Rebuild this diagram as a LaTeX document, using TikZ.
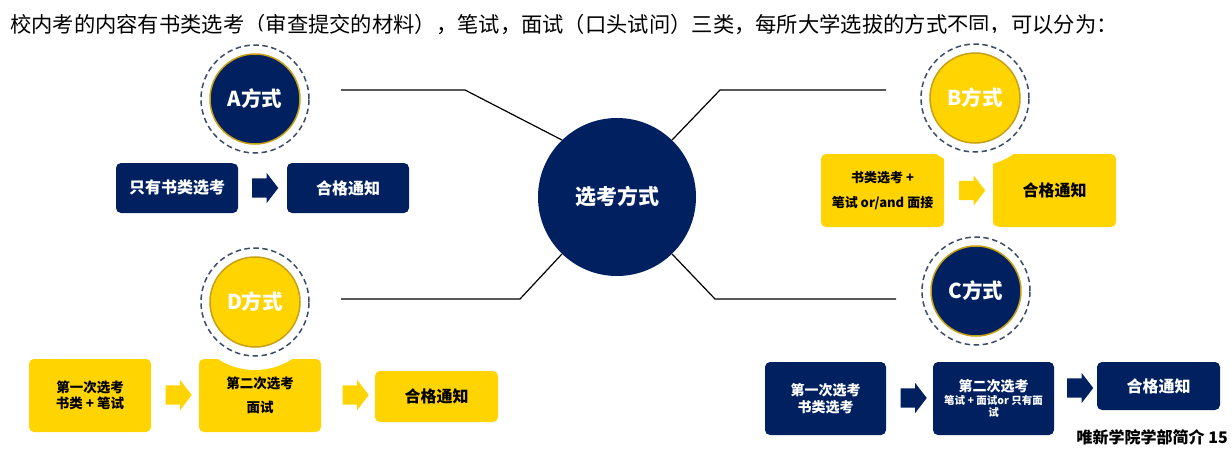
\documentclass[tikz,border=0pt]{standalone}
\usepackage{fontspec}
\setmainfont{Noto Sans CJK SC}
\usetikzlibrary{shapes.arrows}
\definecolor{azul}{RGB}{0,32,96}
\definecolor{amarelo}{RGB}{255,212,0}
\definecolor{ouro}{RGB}{200,160,20}
\definecolor{cinza}{RGB}{60,76,104}

\begin{document}
\begin{tikzpicture}[x=1pt,y=-1pt,
  ligacao/.style={line width=1.2pt,black},
  caixa/.style={rectangle,rounded corners=5pt,inner sep=0pt,align=center},
  caixaazul/.style={caixa,fill=azul,text=white},
  caixaamarela/.style={caixa,fill=amarelo,text=black},
  txtgrande/.style={font=\fontsize{16}{19}\selectfont\bfseries},
  seta/.style={single arrow,inner sep=0pt,inner ysep=9.5pt,minimum height=26pt,minimum width=30pt,single arrow head extend=5.5pt,single arrow tip angle=105},
  metodo/.style={circle,minimum size=90pt,inner sep=0pt,line width=1.5pt,text=white,font=\fontsize{20.5}{24}\selectfont\bfseries},
  anel/.style={draw=cinza,dash pattern=on 5.5pt off 3.5pt,line width=1.5pt}
]
% fundo
\path[use as bounding box,fill=white] (0,0) rectangle (1232,453);
% titulo
\node[anchor=west,inner sep=0pt,font=\fontsize{21.3}{24}\selectfont] (titulo) at (10,25) {校内考的内容有书类选考（审查提交的材料），笔试，面试（口头试问）三类，每所大学选拔的方式不同，可以分为：};
% circulo central
\node[circle,fill=azul,minimum size=158pt,inner sep=0pt,text=white,font=\fontsize{21}{24}\selectfont\bfseries] (centro) at (617,197) {选考方式};

% metodo A
\node[caixaazul,minimum width=122pt,minimum height=50pt,txtgrande] (a1) at (177,188) {只有书类选考};
\node[seta,fill=azul] (sa) at (261.5,188) {};
\node[caixaazul,minimum width=122pt,minimum height=50pt,txtgrande] (a2) at (348,188) {合格通知};
% metodo B
\node[caixaamarela,minimum width=123pt,minimum height=73pt,font=\fontsize{13}{25}\selectfont\bfseries] (b1) at (882.5,190.5) {书类选考 +\\笔试 or/and 面接};
\node[seta,fill=amarelo] (sb) at (968.5,190.5) {};
\node[caixaamarela,minimum width=123pt,minimum height=73pt,txtgrande] (b2) at (1054.5,190.5) {合格通知};
% metodo D
\node[caixaamarela,minimum width=122pt,minimum height=73pt,font=\fontsize{13.5}{16}\selectfont\bfseries] (d1) at (90,395.5) {第一次选考\\书类 + 笔试};
\node[seta,fill=amarelo] (sd1) at (175,395) {};
\node[caixaamarela,minimum width=122pt,minimum height=73pt,font=\fontsize{13.5}{24}\selectfont\bfseries] (d2) at (260,395.5) {第二次选考\\面试};
\node[seta,fill=amarelo] (sd2) at (352,395) {};
\node[caixaamarela,minimum width=123pt,minimum height=51pt,txtgrande] (d3) at (436.5,396.5) {合格通知};
% metodo C
\node[caixaazul,minimum width=121pt,minimum height=73pt,font=\fontsize{14}{17}\selectfont\bfseries] (c1) at (825.5,398.5) {第一次选考\\书类选考};
\node[seta,fill=azul] (sc1) at (910,398) {};
\node[caixaazul,minimum width=121pt,minimum height=73pt,font=\fontsize{10.5}{12}\selectfont\bfseries] (c2) at (993.5,398.5) {{\fontsize{14}{14}\selectfont 第二次选考}\\[1pt]笔试 + 面试or 只有面\\试};
\node[seta,fill=azul] (sc2) at (1076.5,388) {};
\node[caixaazul,minimum width=123pt,minimum height=48pt,txtgrande] (c3) at (1158.5,386) {合格通知};

% circulos dos metodos
\coordinate (mA) at (255,99);
\coordinate (mB) at (975,98);
\coordinate (mD) at (255,302);
\coordinate (mC) at (976,291);
\fill[white] (mA) circle[radius=68pt];
\fill[white] (mB) circle[radius=68pt];
\fill[white] (mD) circle[radius=68pt];
\fill[white] (mC) circle[radius=68pt];
\draw[anel] (mA) circle[radius=54pt];
\draw[anel] (mB) circle[radius=54pt];
\draw[anel] (mD) circle[radius=54pt];
\draw[anel] (mC) circle[radius=54pt];
\node[metodo,fill=azul,draw=ouro] (circA) at (mA) {A方式};
\node[metodo,fill=amarelo,draw=ouro] (circB) at (mB) {B方式};
\node[metodo,fill=amarelo,draw=ouro] (circD) at (mD) {D方式};
\node[metodo,fill=azul,draw=ouro] (circC) at (mC) {C方式};

% ligacoes
\coordinate (dobraA) at (465,90);
\coordinate (fimA) at (341,90);
\coordinate (dobraB) at (720,90);
\coordinate (fimB) at (886,90);
\coordinate (dobraD) at (520,299);
\coordinate (fimD) at (341,299);
\coordinate (dobraC) at (715,299);
\coordinate (fimC) at (896,299);
\draw[ligacao] (centro.134) -- (dobraA) -- (fimA);
\draw[ligacao] (centro.46) -- (dobraB) -- (fimB);
\draw[ligacao] (centro.226) -- (dobraD) -- (fimD);
\draw[ligacao] (centro.314) -- (dobraC) -- (fimC);

% rodape
\node[anchor=east,inner sep=0pt,font=\fontsize{16}{19}\selectfont\bfseries] (rodape) at (1228,437) {唯新学院学部简介 15};
\end{tikzpicture}
\end{document}
